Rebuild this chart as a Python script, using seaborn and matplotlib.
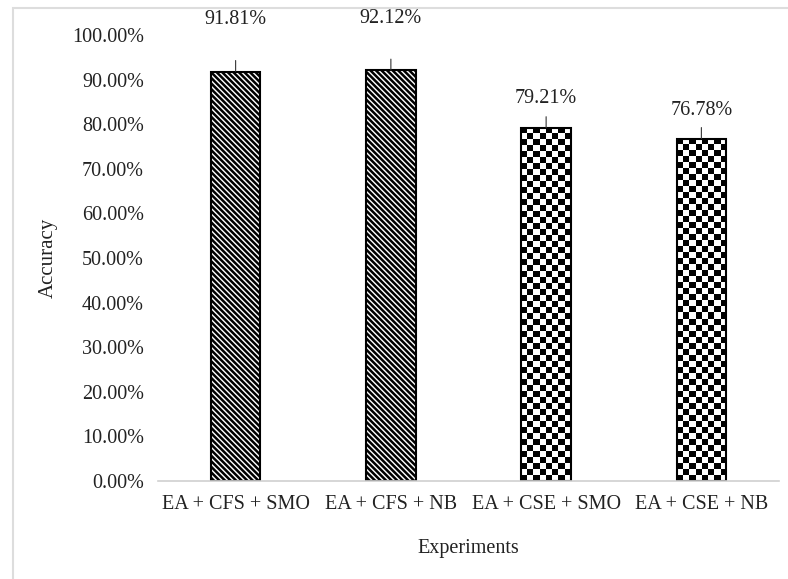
import numpy as np
import pandas as pd
import matplotlib
matplotlib.use("Agg")
import matplotlib.pyplot as plt
from matplotlib.patches import Rectangle
from matplotlib.ticker import FuncFormatter
import seaborn as sns

experiments = ["EA + CFS + SMO", "EA + CFS + NB", "EA + CSE + SMO", "EA + CSE + NB"]
accuracy = [0.9181, 0.9212, 0.7921, 0.7678]
labels = ["91.81%", "92.12%", "79.21%", "76.78%"]
yticks = [0.0, 0.1, 0.2, 0.3, 0.4, 0.5, 0.6, 0.7, 0.8, 0.9, 1.0]

sns.set_style("white")
plt.rcParams["font.family"] = ["Liberation Serif", "DejaVu Serif"]
plt.rcParams["hatch.linewidth"] = 1.8

df = pd.DataFrame({"Experiments": experiments, "Accuracy": accuracy})

W, H = 788, 579
fig = plt.figure(figsize=(W / 100, H / 100), dpi=100)
ax = fig.add_axes([158 / W, 1 - 481 / H, (779 - 158) / W, (481 - 35) / H])

sns.barplot(data=df, x="Experiments", y="Accuracy", ax=ax, width=0.32,
            color="white", edgecolor="black", linewidth=1.5, saturation=1)

ax.set_ylim(0, 1)
ax.set_xlim(-0.5, 3.5)
ax.set_yticks(yticks)
ax.yaxis.set_major_formatter(FuncFormatter(lambda v, p: f"{v:.2%}"))
ax.tick_params(axis="y", length=0, labelsize=14.5, pad=10, labelcolor="#222222")
ax.tick_params(axis="x", which="major", length=0, labelsize=14.5, pad=10, labelcolor="#222222")
ax.set_xticks(np.arange(-0.5, 4, 1), minor=True)
ax.tick_params(axis="x", which="minor", length=6, color="#d0d0d0", width=1)
for s in ["left", "right", "top"]:
    ax.spines[s].set_visible(False)
ax.spines["bottom"].set_color("#d0d0d0")
ax.spines["bottom"].set_linewidth(1.2)
ax.set_xlabel("Experiments", fontsize=14.5, labelpad=18, color="#222222")
ax.set_ylabel("Accuracy", fontsize=15, labelpad=10, color="#222222")

fig.canvas.draw()
renderer = fig.canvas.get_renderer()
bars = ax.patches
for i, p in enumerate(bars):
    if i < 2:
        p.set_hatch("\\\\\\\\\\\\")
    else:
        bb = p.get_window_extent(renderer)
        nx = max(1, int(round(bb.width / 6)))
        ny = max(1, int(round(bb.height / 6)))
        board = np.indices((ny, nx)).sum(0) % 2
        x0 = p.get_x()
        im = ax.imshow(board, cmap="gray", extent=(x0, x0 + p.get_width(), 0, p.get_height()),
                       aspect="auto", interpolation="nearest", zorder=p.get_zorder() - 0.1)
        im.set_clip_path(p)
        p.set_facecolor("none")
        p.set_zorder(p.get_zorder() + 0.2)

ax.set_xlim(-0.5, 3.5)
ax.set_ylim(0, 1)

offsets = [52, 52, 29, 28]
for p, lab, off in zip(bars, labels, offsets):
    cx = p.get_x() + p.get_width() / 2
    top = p.get_height()
    ax.annotate("", xy=(cx, top), xytext=(0, 11), textcoords="offset pixels",
                arrowprops=dict(arrowstyle="-", color="#333333", lw=0.8, shrinkA=0, shrinkB=0),
                annotation_clip=False)
    ax.annotate(lab, xy=(cx, top), xytext=(0, off), textcoords="offset pixels",
                ha="center", va="center", fontsize=14.5, color="#222222", annotation_clip=False)

fig.patches.append(Rectangle((13 / W, -0.1), 1.2, 1.1 - 8 / H, transform=fig.transFigure,
                             fill=False, edgecolor="#dddddd", linewidth=1.5))

fig.savefig("out.png", dpi=100)
